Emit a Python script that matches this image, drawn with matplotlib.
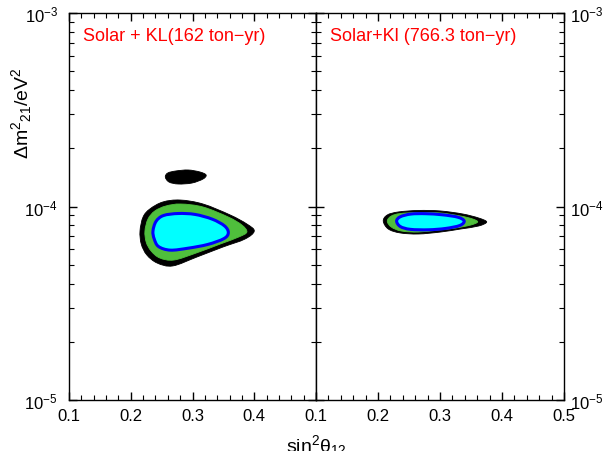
import matplotlib
matplotlib.use("Agg")
import numpy as np
import matplotlib.pyplot as plt
from matplotlib.path import Path
from matplotlib.patches import PathPatch
from matplotlib.ticker import MultipleLocator, LogLocator, NullFormatter

plt.rcParams['font.family'] = ['Liberation Sans', 'DejaVu Sans']
plt.rcParams['mathtext.fontset'] = 'custom'
plt.rcParams['mathtext.rm'] = 'Liberation Sans'
plt.rcParams['mathtext.it'] = 'Liberation Sans'

# allowed regions, sin^2(theta12) vs dm^2_21 (in units of 1e-5 eV^2)
# panel 1: Solar + KL (162 ton-yr)
p1_black_x = [0.215, 0.220, 0.231, 0.252, 0.280, 0.317, 0.361, 0.388, 0.400, 0.385, 0.349, 0.307, 0.268, 0.243, 0.226, 0.217]
p1_black_y = [7.47, 8.83, 9.71, 10.55, 10.8, 10.3, 9.04, 8.12, 7.47, 6.79, 6.17, 5.48, 4.93, 5.10, 5.62, 6.40]
p1_green_x = [0.223, 0.228, 0.239, 0.257, 0.281, 0.317, 0.358, 0.380, 0.388, 0.375, 0.345, 0.306, 0.270, 0.247, 0.233, 0.225]
p1_green_y = [7.47, 8.62, 9.48, 10.06, 10.3, 9.94, 8.82, 8.02, 7.38, 6.96, 6.40, 5.75, 5.29, 5.42, 5.89, 6.55]
p1_blue_x = [0.236, 0.241, 0.253, 0.277, 0.304, 0.332, 0.352, 0.358, 0.351, 0.325, 0.293, 0.264, 0.245, 0.238]
p1_blue_y = [7.47, 8.38, 8.98, 9.20, 9.10, 8.60, 7.93, 7.32, 6.83, 6.37, 6.09, 5.95, 6.21, 6.80]
p1_island_x = [0.256, 0.260, 0.273, 0.293, 0.312, 0.322, 0.317, 0.299, 0.277, 0.262]
p1_island_y = [14.2, 14.9, 15.26, 15.44, 15.08, 14.55, 13.87, 13.22, 13.07, 13.38]

# panel 2: Solar + KL (766.3 ton-yr)
p2_black_x = [0.2085, 0.2150, 0.2328, 0.2652, 0.3008, 0.3364, 0.3623, 0.3753, 0.3623, 0.3332, 0.3008, 0.2652, 0.2360, 0.2166]
p2_black_y = [8.41, 9.04, 9.37, 9.54, 9.48, 9.15, 8.72, 8.32, 7.93, 7.65, 7.38, 7.21, 7.30, 7.65]
p2_green_x = [0.2150, 0.2215, 0.2360, 0.2652, 0.3008, 0.3332, 0.3526, 0.3607, 0.3494, 0.3251, 0.2976, 0.2652, 0.2377, 0.2215]
p2_green_y = [8.41, 8.93, 9.20, 9.31, 9.26, 8.93, 8.62, 8.32, 8.02, 7.74, 7.56, 7.38, 7.47, 7.83]
p2_blue_x = [0.2300, 0.2360, 0.2530, 0.2765, 0.3040, 0.3290, 0.3390, 0.3320, 0.3089, 0.2814, 0.2522, 0.2360]
p2_blue_y = [8.41, 8.85, 9.14, 9.18, 9.06, 8.80, 8.41, 7.98, 7.70, 7.58, 7.62, 7.88]

titles = ["Solar + KL(162 ton\u2212yr)", "Solar+Kl (766.3 ton\u2212yr)"]

GREEN = '#4fbf3c'
panels = [
    [(p1_black_x, p1_black_y, 'black'), (p1_island_x, p1_island_y, 'black'),
     (p1_green_x, p1_green_y, GREEN)],
    [(p2_black_x, p2_black_y, 'black'), (p2_green_x, p2_green_y, GREEN)],
]
cores = [(p1_blue_x, p1_blue_y), (p2_blue_x, p2_blue_y)]


def smoothOutline(xs, ys):
    # closed bezier path through the read-off outline points
    # (control points built in log space because the y axis is log)
    px = np.asarray(xs, float)
    py = np.log10(np.asarray(ys, float) * 1e-5)
    n = len(px)
    verts = [(px[0], py[0])]
    codes = [Path.MOVETO]
    for i in range(n):
        a, b = i - 1, i
        c, d = (i + 1) % n, (i + 2) % n
        c1 = (px[b] + (px[c] - px[a]) / 6, py[b] + (py[c] - py[a]) / 6)
        c2 = (px[c] - (px[d] - px[b]) / 6, py[c] - (py[d] - py[b]) / 6)
        verts += [c1, c2, (px[c], py[c])]
        codes += [Path.CURVE4] * 3
    verts = [(x, 10 ** y) for x, y in verts]
    verts.append(verts[0])
    codes.append(Path.CLOSEPOLY)
    return Path(verts, codes)


fig = plt.figure(figsize=(6.06, 4.52), dpi=100)
ax1 = fig.add_axes([69 / 606, 1 - 401 / 452, 247 / 606, 387 / 452])
ax2 = fig.add_axes([316 / 606, 1 - 401 / 452, 248 / 606, 387 / 452])

for i, ax in enumerate([ax1, ax2]):
    ax.set_yscale('log')
    ax.set_xlim(0.1, 0.5)
    ax.set_ylim(1e-5, 1e-3)
    for xs, ys, col in panels[i]:
        ax.add_patch(PathPatch(smoothOutline(xs, ys), fc=col, ec=col, lw=0.6))
    bx, by = cores[i]
    ax.add_patch(PathPatch(smoothOutline(bx, by), fc='#00ffff', ec='#0000ff', lw=2.2))

    ax.xaxis.set_major_locator(MultipleLocator(0.1))
    ax.xaxis.set_minor_locator(MultipleLocator(0.02))
    ax.yaxis.set_major_locator(LogLocator(base=10))
    ax.yaxis.set_minor_locator(LogLocator(base=10, subs=range(2, 10)))
    ax.yaxis.set_minor_formatter(NullFormatter())
    ax.tick_params(which='both', direction='in', top=True, right=True, labelsize=12)
    ax.tick_params(which='major', length=6, width=1)
    ax.tick_params(which='minor', length=3.5, width=0.8)
    ax.tick_params(axis='x', pad=6)
    for sp in ax.spines.values():
        sp.set_linewidth(1)
    ax.text(0.055, 0.965, titles[i], transform=ax.transAxes, color='red',
            fontsize=13, va='top', ha='left')

ax1.set_xticks([0.1, 0.2, 0.3, 0.4, 0.5])
ax1.set_xticklabels(['0.1', '0.2', '0.3', '0.4', ''])
ax1.tick_params(axis='y', pad=8)
ax2.tick_params(axis='y', labelleft=False, labelright=True, pad=4)

fig.text(22 / 606, 1 - 113 / 452, r'$\Delta$m$^2$$_{21}$/eV$^2$', rotation=90,
         ha='center', va='center', fontsize=14)
fig.text(316 / 606, 1 - 433 / 452, r'sin$^2\theta_{12}$', ha='center', va='top', fontsize=14)

fig.savefig('out.png', dpi=100)
